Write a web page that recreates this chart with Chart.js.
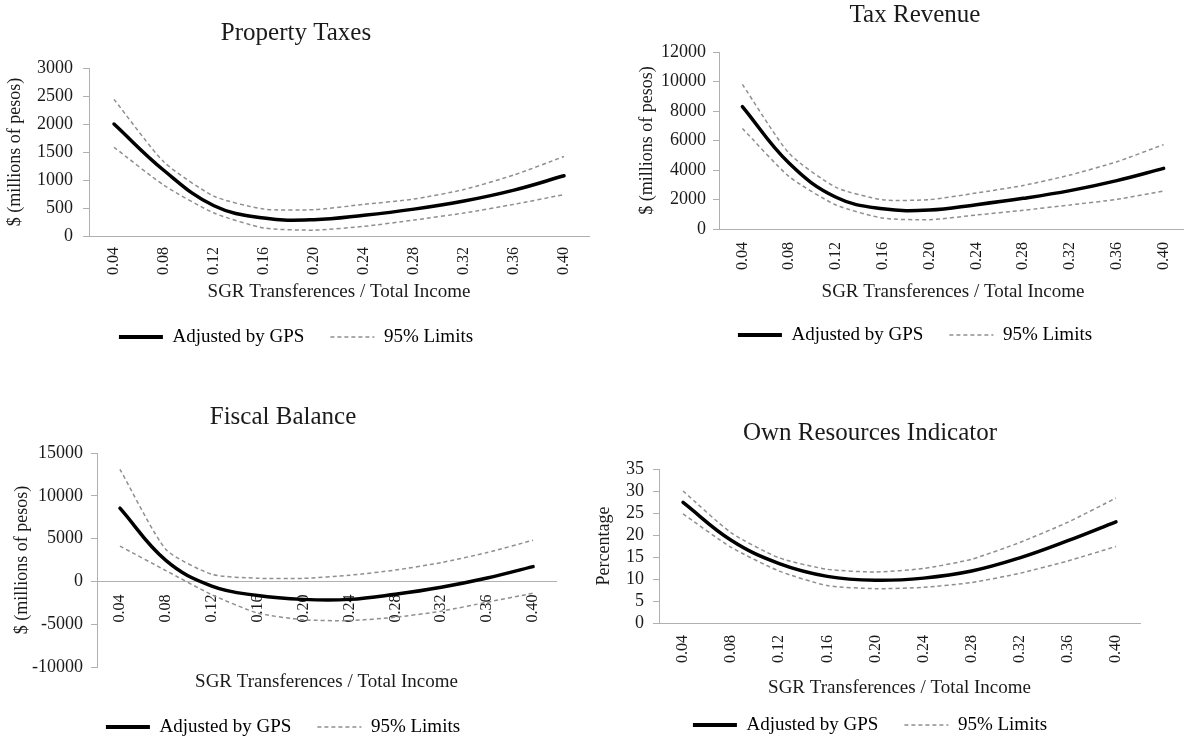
<!DOCTYPE html>
<html>
<head>
<meta charset="utf-8">
<title>SGR Transferences / Total Income</title>
<script src="https://cdn.jsdelivr.net/npm/chart.js@4.4.1/dist/chart.umd.min.js"></script>
<style>
  html, body { margin: 0; padding: 0; background: #fff; overflow: hidden; }
  body { width: 1184px; height: 740px; position: relative; }
  canvas { position: absolute; }
</style>
</head>
<body>
<canvas id="property"></canvas>
<canvas id="revenue"></canvas>
<canvas id="balance"></canvas>
<canvas id="resources"></canvas>

<script>
/* ===== DATA ===== */
const categories = ["0.04", "0.08", "0.12", "0.16", "0.20", "0.24", "0.28", "0.32", "0.36", "0.40"];

const propertyMain = [2000, 1170, 540, 320, 290, 370, 480, 625, 820, 1075];
const propertyUpper = [2440, 1320, 710, 480, 470, 565, 660, 830, 1090, 1420];
const propertyLower = [1585, 905, 410, 143, 105, 172, 285, 410, 565, 740];
const propertyTicks = [0, 3000, 500];

const revenueMain = [8300, 4450, 2150, 1370, 1280, 1650, 2080, 2600, 3280, 4110];
const revenueUpper = [9800, 5120, 2820, 1980, 1990, 2440, 2950, 3660, 4560, 5720];
const revenueLower = [6820, 3550, 1630, 740, 630, 950, 1270, 1630, 2010, 2580];
const revenueTicks = [0, 12000, 2000];

const balanceMain = [8550, 2450, -540, -1650, -2100, -2100, -1500, -680, 400, 1730];
const balanceUpper = [13100, 3740, 830, 370, 350, 720, 1320, 2200, 3370, 4810];
const balanceLower = [4130, 1260, -1550, -3700, -4480, -4580, -4190, -3480, -2430, -1380];
const balanceTicks = [-10000, 15000, 5000];

const resourcesMain = [27.4, 18.8, 13.5, 10.6, 9.7, 10.2, 11.8, 14.8, 18.7, 23.0];
const resourcesUpper = [30.0, 20.5, 14.8, 12.2, 11.6, 12.4, 14.5, 18.3, 22.9, 28.4];
const resourcesLower = [24.8, 17.2, 11.8, 8.5, 7.8, 8.1, 9.2, 11.3, 14.1, 17.4];
const resourcesTicks = [0, 35, 5];

const xTitle = "SGR Transferences / Total Income";
const mainLabel = "Adjusted by GPS";
const limitLabel = "95% Limits";

/* ===== STYLE ===== */
const textColor = "#1a1a1a";
const axisColor = "#b0b0b0";
const limitColor = "#8f8f8f";
const limitDash = [4, 3];

Chart.defaults.font.family = "'Liberation Serif', 'Times New Roman', serif";
Chart.defaults.color = textColor;

function legendItems() {
  return [
    { text: mainLabel, pointStyle: "line", strokeStyle: "#000", fillStyle: "#000", lineWidth: 4, lineDash: [], datasetIndex: 0 },
    { text: limitLabel, pointStyle: "line", strokeStyle: limitColor, fillStyle: limitColor, lineWidth: 1.5, lineDash: limitDash, datasetIndex: 1 }
  ];
}

function makeChart(id, box, c) {
  const canvas = document.getElementById(id);
  canvas.width = box.width;
  canvas.height = box.height;
  canvas.style.left = box.left + "px";
  canvas.style.top = box.top + "px";

  const zeroAxis = !!c.zeroAxis;

  return new Chart(canvas, {
    type: "line",
    data: {
      labels: categories,
      datasets: [
        { label: mainLabel, data: c.main, yAxisID: "y", borderColor: "#000", borderWidth: 3.5, borderCapStyle: "round", pointRadius: 0, tension: 0.4 },
        { label: limitLabel, data: c.upper, yAxisID: "y", borderColor: limitColor, borderWidth: 1.5, borderDash: limitDash, pointRadius: 0, tension: 0.2 },
        { label: limitLabel + " (lower)", data: c.lower, yAxisID: "y", borderColor: limitColor, borderWidth: 1.5, borderDash: limitDash, pointRadius: 0, tension: 0.2 }
      ]
    },
    options: {
      responsive: false,
      animation: false,
      layout: { padding: { left: 0, right: 0, top: 0, bottom: c.padBottom } },
      plugins: {
        title: {
          display: true,
          text: c.title,
          color: textColor,
          font: { size: 25, weight: "normal" },
          padding: { top: c.titleTop, bottom: c.titleBottom }
        },
        subtitle: {
          display: zeroAxis,
          position: "bottom",
          fullSize: false,
          weight: 500,
          text: xTitle,
          color: textColor,
          font: { size: 19 },
          padding: { top: c.subTop || 0, bottom: c.subBottom || 0 }
        },
        legend: {
          position: "bottom",
          labels: {
            usePointStyle: true,
            pointStyleWidth: 44,
            padding: 26,
            color: textColor,
            font: { size: 19 },
            generateLabels: legendItems
          }
        },
        tooltip: { enabled: false }
      },
      scales: {
        x: {
          type: "category",
          offset: true,
          position: zeroAxis ? { y: 0 } : "bottom",
          grid: { display: false, drawTicks: true, tickLength: 8 },
          border: { display: true, color: axisColor, width: 1 },
          ticks: { minRotation: 90, maxRotation: 90, autoSkip: false, padding: c.xTickPad, color: textColor, font: { size: 16 } },
          title: { display: !zeroAxis, text: xTitle, color: textColor, font: { size: 19 }, padding: { top: 0, bottom: c.xTitlePad || 0 } },
          afterFit: s => { if (!zeroAxis) s.height = c.xHeight; }
        },
        y: {
          min: c.ticks[0],
          max: c.ticks[1],
          ticks: { stepSize: c.ticks[2], autoSkip: false, padding: c.yTickPad, color: textColor, font: { size: 18 }, callback: v => v },
          grid: { display: true, drawOnChartArea: false, drawTicks: true, tickLength: 6, color: axisColor },
          border: { display: true, color: axisColor, width: 1 },
          title: { display: true, text: c.yTitle, color: textColor, font: { size: 18 }, padding: { top: c.yTitlePad, bottom: 0 } },
          afterFit: s => { s.width = c.yWidth; }
        },
        // empty strip on the right so the title and legend stay centred on the whole panel
        pad: {
          type: "linear",
          position: "right",
          grid: { display: false },
          border: { display: false },
          ticks: { display: false },
          afterFit: s => { s.width = c.padRight; }
        }
      }
    }
  });
}

/* ===== CHARTS ===== */
makeChart("property", { left: 0, top: 0, width: 592, height: 370 }, {
  title: "Property Taxes", yTitle: "$ (millions of pesos)",
  main: propertyMain, upper: propertyUpper, lower: propertyLower, ticks: propertyTicks,
  titleTop: 18, titleBottom: 20, yWidth: 89, padRight: 3, padBottom: 13.5,
  xHeight: 65.5, xTickPad: 3, xTitlePad: -2, yTickPad: 10, yTitlePad: 4
});

makeChart("revenue", { left: 592, top: 0, width: 646, height: 370 }, {
  title: "Tax Revenue", yTitle: "$ (millions of pesos)",
  main: revenueMain, upper: revenueUpper, lower: revenueLower, ticks: revenueTicks,
  titleTop: 0, titleBottom: 22, yWidth: 127, padRight: 51, padBottom: 15.5,
  xHeight: 70.5, xTickPad: 5, xTitlePad: -4, yTickPad: 7, yTitlePad: 44
});

makeChart("balance", { left: 0, top: 380, width: 566, height: 370 }, {
  title: "Fiscal Balance", yTitle: "$ (millions of pesos)", zeroAxis: true,
  main: balanceMain, upper: balanceUpper, lower: balanceLower, ticks: balanceTicks,
  titleTop: 22, titleBottom: 21, yWidth: 97, padRight: 10, padBottom: 3.5,
  subTop: 3.6, subBottom: -1.9, xTickPad: 5, yTickPad: 8, yTitlePad: 11
});

makeChart("resources", { left: 592, top: 380, width: 556, height: 370 }, {
  title: "Own Resources Indicator", yTitle: "Percentage",
  main: resourcesMain, upper: resourcesUpper, lower: resourcesLower, ticks: resourcesTicks,
  titleTop: 38, titleBottom: 21, yWidth: 67, padRight: 8, padBottom: 5.5,
  xHeight: 66.5, xTickPad: 4, xTitlePad: -10, yTickPad: 9, yTitlePad: 1
});
</script>
</body>
</html>
